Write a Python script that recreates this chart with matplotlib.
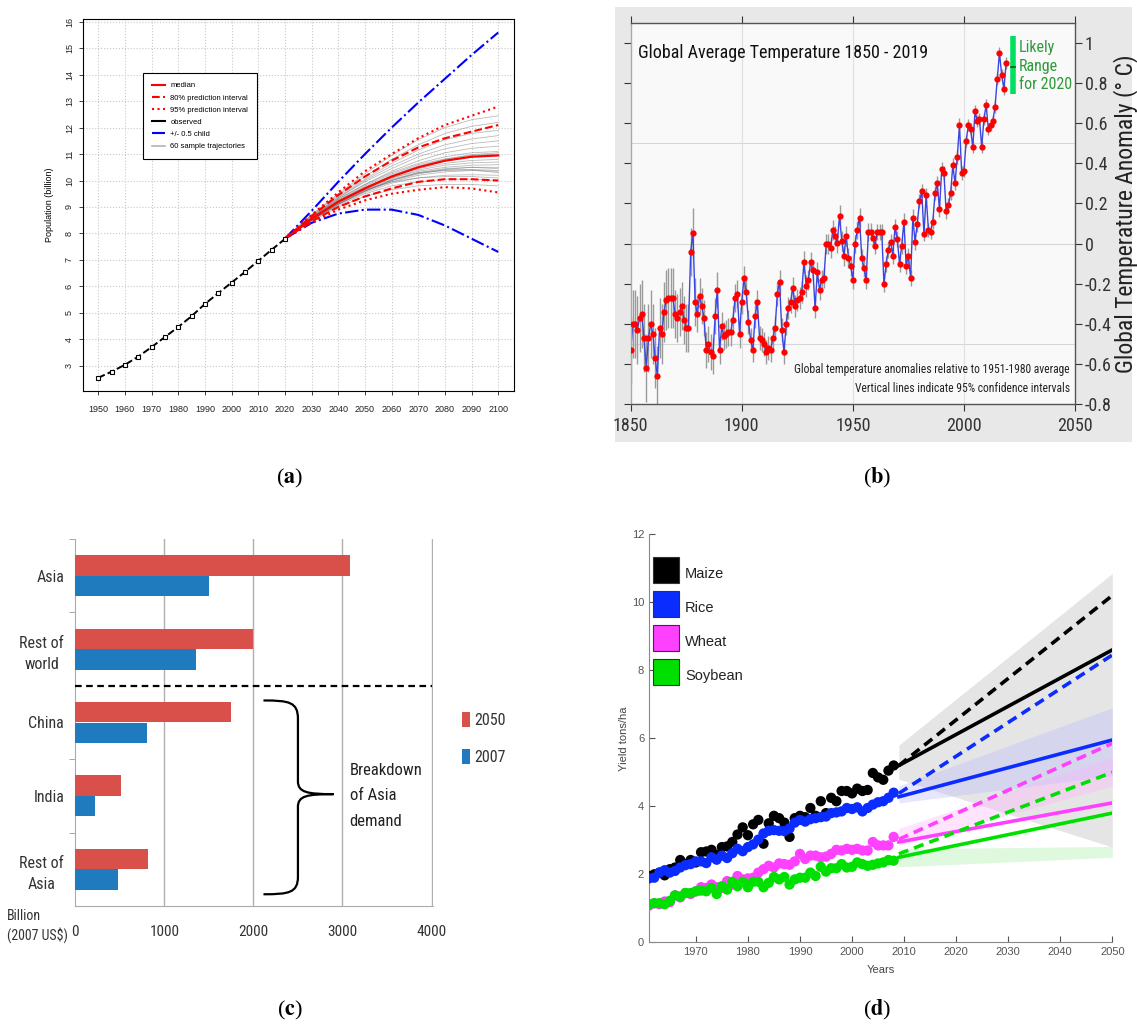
import matplotlib
matplotlib.use('Agg')
import matplotlib.pyplot as plt
import numpy as np
from matplotlib.lines import Line2D
from matplotlib.patches import Rectangle, PathPatch
from matplotlib.path import Path

plt.rcParams['axes.unicode_minus'] = False
plt.rcParams['mathtext.fontset'] = 'stix'
NARROW = ['Liberation Sans Narrow', 'DejaVu Sans Condensed', 'Roboto Condensed', 'Liberation Sans']
SANS = ['Liberation Sans', 'DejaVu Sans']

# ---------------- (a) population projections ----------------
obs_years = [1950, 1955, 1960, 1965, 1970, 1975, 1980, 1985, 1990, 1995, 2000, 2005, 2010, 2015, 2020]
obs_pop = [2.54, 2.77, 3.03, 3.34, 3.70, 4.08, 4.46, 4.87, 5.33, 5.74, 6.14, 6.54, 6.96, 7.38, 7.79]

proj_years = [2020, 2030, 2040, 2050, 2060, 2070, 2080, 2090, 2100]
median = [7.8, 8.55, 9.2, 9.7, 10.15, 10.5, 10.75, 10.9, 10.95]
pi80_hi = [7.8, 8.65, 9.45, 10.15, 10.75, 11.25, 11.6, 11.85, 12.1]
pi80_lo = [7.8, 8.45, 9.0, 9.4, 9.7, 9.95, 10.05, 10.05, 10.0]
pi95_hi = [7.8, 8.7, 9.55, 10.35, 11.0, 11.6, 12.1, 12.45, 12.8]
pi95_lo = [7.8, 8.4, 8.9, 9.25, 9.5, 9.65, 9.75, 9.7, 9.55]
child_hi = [7.8, 8.85, 9.95, 11.0, 12.0, 12.95, 13.85, 14.75, 15.6]
child_lo = [7.8, 8.4, 8.75, 8.9, 8.9, 8.7, 8.3, 7.8, 7.3]

# sample trajectories, values at 2030..2100
trajectories = [
    [8.45, 9.0, 9.4, 9.65, 9.8, 9.85, 9.85, 9.8],
    [8.5, 9.05, 9.5, 9.8, 9.95, 10.05, 10.05, 10.0],
    [8.5, 9.1, 9.55, 9.9, 10.1, 10.2, 10.22, 10.2],
    [8.55, 9.15, 9.6, 9.95, 10.2, 10.33, 10.38, 10.35],
    [8.5, 9.1, 9.6, 10.0, 10.25, 10.42, 10.5, 10.5],
    [8.55, 9.2, 9.7, 10.1, 10.35, 10.5, 10.58, 10.6],
    [8.6, 9.25, 9.75, 10.15, 10.45, 10.65, 10.76, 10.8],
    [8.55, 9.2, 9.7, 10.15, 10.5, 10.75, 10.9, 10.95],
    [8.6, 9.3, 9.85, 10.3, 10.65, 10.9, 11.05, 11.1],
    [8.6, 9.3, 9.85, 10.35, 10.75, 11.05, 11.22, 11.3],
    [8.65, 9.35, 9.95, 10.45, 10.9, 11.2, 11.4, 11.5],
    [8.6, 9.35, 10.0, 10.55, 11.0, 11.35, 11.57, 11.7],
    [8.65, 9.4, 10.05, 10.65, 11.15, 11.55, 11.78, 11.9],
    [8.7, 9.45, 10.15, 10.8, 11.35, 11.78, 12.05, 12.2],
    [8.7, 9.5, 10.25, 10.95, 11.55, 12.0, 12.3, 12.45],
    [8.55, 9.2, 9.65, 9.95, 10.1, 10.15, 10.15, 10.1],
    [8.5, 9.15, 9.7, 10.1, 10.4, 10.58, 10.67, 10.7],
    [8.6, 9.25, 9.8, 10.25, 10.6, 10.82, 10.95, 11.0],
    [8.55, 9.2, 9.75, 10.2, 10.55, 10.8, 10.98, 11.05],
    [8.5, 9.1, 9.6, 10.0, 10.3, 10.45, 10.5, 10.45],
    [8.55, 9.15, 9.65, 10.05, 10.3, 10.4, 10.42, 10.38],
    [8.5, 9.12, 9.62, 10.02, 10.28, 10.38, 10.4, 10.3],
]

# ---------------- (b) global temperature ----------------
temp_start = 1850
temp = [
    -0.53, -0.40, -0.40, -0.43, -0.37, -0.35, -0.47, -0.62, -0.47, -0.40,
    -0.45, -0.57, -0.66, -0.42, -0.45, -0.34, -0.28, -0.27, -0.27, -0.27,
    -0.35, -0.37, -0.34, -0.31, -0.38, -0.42, -0.42, -0.04, 0.055, -0.29,
    -0.35, -0.26, -0.31, -0.37, -0.53, -0.50, -0.54, -0.56, -0.36, -0.23,
    -0.53, -0.41, -0.46, -0.45, -0.44, -0.44, -0.38, -0.27, -0.25, -0.45,
    -0.29, -0.17, -0.24, -0.39, -0.48, -0.53, -0.36, -0.29, -0.47, -0.48,
    -0.50, -0.54, -0.52, -0.53, -0.47, -0.42, -0.25, -0.19, -0.43, -0.54,
    -0.40, -0.32, -0.29, -0.22, -0.31, -0.28, -0.27, -0.24, -0.09, -0.21,
    -0.18, -0.09, -0.13, -0.32, -0.14, -0.23, -0.18, -0.17, 0.00, 0.00,
    -0.02, 0.07, 0.04, 0.005, 0.14, 0.015, -0.06, 0.04, -0.07, -0.11,
    -0.18, 0.00, 0.07, 0.13, -0.07, -0.12, -0.18, 0.06, 0.06, 0.03,
    -0.01, 0.06, 0.06, 0.06, -0.20, -0.10, -0.03, 0.01, -0.06, 0.085,
    0.025, -0.10, -0.01, 0.11, -0.11, -0.06, -0.17, 0.13, 0.01, 0.10,
    0.21, 0.26, 0.05, 0.24, 0.07, 0.06, 0.11, 0.25, 0.30, 0.17,
    0.37, 0.35, 0.16, 0.19, 0.25, 0.39, 0.30, 0.43, 0.59, 0.35,
    0.36, 0.51, 0.59, 0.57, 0.48, 0.66, 0.61, 0.62, 0.48, 0.62,
    0.69, 0.57, 0.59, 0.61, 0.68, 0.82, 0.95, 0.84, 0.77, 0.90,
]
# 95% half-width per decade 1850s..2010s
decade_err = [0.17, 0.15, 0.12, 0.09, 0.07, 0.06, 0.06, 0.055, 0.05, 0.05,
              0.045, 0.04, 0.04, 0.035, 0.035, 0.03, 0.03]
range_2020 = [0.745, 1.035]
range_2020_mid = 0.88

# ---------------- (c) demand ----------------
regions = ['Asia', 'Rest of\nworld', 'China', 'India', 'Rest of\nAsia']
demand_2050 = [3080, 2000, 1750, 510, 815]
demand_2007 = [1500, 1350, 800, 225, 480]

# ---------------- (d) crop yields ----------------
yield_years = list(range(1961, 2009))
maize = [1.95, 2.0, 2.05, 1.97, 2.15, 2.2, 2.42, 2.3, 2.42, 2.35,
         2.65, 2.67, 2.72, 2.57, 2.8, 2.82, 2.95, 3.17, 3.38, 3.15,
         3.47, 3.6, 2.9, 3.5, 3.72, 3.65, 3.52, 3.1, 3.65, 3.72,
         3.68, 3.95, 3.72, 4.15, 3.8, 4.25, 4.15, 4.45, 4.45, 4.38,
         4.52, 4.45, 4.48, 4.98, 4.85, 4.78, 5.05, 5.2]
rice = [1.88, 1.9, 2.05, 2.12, 2.05, 2.1, 2.2, 2.27, 2.3, 2.38,
        2.38, 2.33, 2.5, 2.43, 2.55, 2.48, 2.62, 2.75, 2.68, 2.8,
        2.88, 3.02, 3.2, 3.28, 3.3, 3.28, 3.27, 3.35, 3.52, 3.6,
        3.55, 3.62, 3.65, 3.68, 3.7, 3.8, 3.82, 3.85, 3.95, 3.92,
        3.97, 3.85, 3.95, 4.05, 4.12, 4.15, 4.25, 4.4]
wheat = [1.08, 1.15, 1.12, 1.2, 1.18, 1.38, 1.32, 1.45, 1.42, 1.5,
         1.62, 1.6, 1.7, 1.62, 1.6, 1.8, 1.7, 1.95, 1.85, 1.88,
         1.9, 2.05, 2.15, 2.25, 2.2, 2.32, 2.3, 2.28, 2.38, 2.6,
         2.45, 2.55, 2.55, 2.5, 2.52, 2.6, 2.72, 2.7, 2.75, 2.72,
         2.75, 2.7, 2.7, 2.95, 2.85, 2.85, 2.85, 3.1]
soybean = [1.12, 1.15, 1.15, 1.12, 1.22, 1.38, 1.35, 1.45, 1.45, 1.5,
           1.52, 1.5, 1.6, 1.42, 1.65, 1.55, 1.78, 1.65, 1.78, 1.62,
           1.78, 1.78, 1.62, 1.75, 1.92, 1.85, 1.92, 1.7, 1.85, 1.9,
           1.9, 2.05, 1.95, 2.22, 2.08, 2.18, 2.18, 2.3, 2.2, 2.22,
           2.35, 2.3, 2.25, 2.28, 2.32, 2.35, 2.42, 2.4]
trend_years = [2009, 2050]
maize_trend = [5.2, 8.6]
maize_needed = [5.2, 10.2]
rice_trend = [4.28, 5.95]
rice_needed = [4.38, 8.45]
wheat_trend = [2.95, 4.1]
wheat_needed = [3.03, 5.85]
soy_trend = [2.5, 3.8]
soy_needed = [2.6, 5.0]
maize_band = ([4.8, 2.8], [5.8, 10.85])
rice_band = ([4.1, 4.9], [4.6, 6.9])
wheat_band = ([2.85, 4.6], [3.35, 5.45])
soy_band = ([2.22, 2.5], [2.75, 2.82])

fig = plt.figure(figsize=(11.37, 10.28), dpi=100)
W, H = 1137.0, 1028.0


def axes_px(left, top, right, bottom):
    return fig.add_axes([left / W, 1 - bottom / H, (right - left) / W, (bottom - top) / H])


# ================= panel (a) =================
ax = axes_px(83, 19, 514, 391)
for tr in trajectories:
    ax.plot(proj_years, [7.8] + tr, color='0.4', lw=0.6, alpha=0.45, zorder=2)
ax.plot(proj_years, child_hi, color='blue', lw=1.5, ls='-.', zorder=3)
ax.plot(proj_years, child_lo, color='blue', lw=1.5, ls='-.', zorder=3)
ax.plot(proj_years, pi95_hi, color='red', lw=1.5, ls=':', zorder=4)
ax.plot(proj_years, pi95_lo, color='red', lw=1.5, ls=':', zorder=4)
ax.plot(proj_years, pi80_hi, color='red', lw=1.5, ls='--', zorder=4)
ax.plot(proj_years, pi80_lo, color='red', lw=1.5, ls='--', zorder=4)
ax.plot(proj_years, median, color='red', lw=1.6, zorder=5)
ax.plot(obs_years, obs_pop, color='black', lw=1.4, ls='--', marker='s',
        ms=3, mfc='white', mec='black', mew=0.8, zorder=6)
ax.set_xlim(1944.3, 2105.9)
ax.set_ylim(2.04, 16.11)
ax.set_xticks(range(1950, 2101, 10))
ax.set_yticks(range(3, 17))
ax.grid(True, ls=':', color='#c8c8c8', lw=0.8)
ax.set_axisbelow(True)
ax.tick_params(labelsize=6.5, length=3, width=0.6, colors='#222222')
ax.tick_params(axis='x', pad=7)
for lbl in ax.get_xticklabels() + ax.get_yticklabels():
    lbl.set_family(SANS)
for lbl in ax.get_yticklabels():
    lbl.set_rotation(90)
    lbl.set_va('center')
for s in ax.spines.values():
    s.set_linewidth(0.8)
ax.set_ylabel('Population (billion)', fontsize=6.5, family=SANS, labelpad=8)
handles_a = [
    Line2D([], [], color='red', lw=1.5),
    Line2D([], [], color='red', lw=1.5, ls='--'),
    Line2D([], [], color='red', lw=1.5, ls=':'),
    Line2D([], [], color='black', lw=1.5),
    Line2D([], [], color='blue', lw=1.5, ls='-.'),
    Line2D([], [], color='0.7', lw=1.2),
]
labels_a = ['median', '80% prediction interval', '95% prediction interval',
            'observed', '+/- 0.5 child', '60 sample trajectories']
leg = ax.legend(handles_a, labels_a, loc='upper left', bbox_to_anchor=(0.1385, 0.855),
                borderaxespad=0, labelspacing=0.63, handlelength=1.7, handletextpad=0.7,
                fancybox=False, edgecolor='black', framealpha=1, borderpad=1.2,
                prop={'family': SANS, 'size': 5.5})
leg.get_frame().set_linewidth(0.8)

# ================= panel (b) =================
fig.patches.append(Rectangle((615 / W, 1 - 442 / H), (1132 - 615) / W, (442 - 7) / H,
                             transform=fig.transFigure, facecolor='#e8e8e8',
                             edgecolor='none', zorder=-10))
bx = axes_px(630.7, 22.7, 1075, 404.3)
bx.set_facecolor('#f9f9f9')
t_years = np.arange(temp_start, temp_start + len(temp))
t_err = np.repeat(decade_err, 10)[:len(temp)]
t_vals = np.array(temp)
for yv in (-0.5, 0, 0.5):
    bx.axhline(yv, color='#d6d6d6', lw=0.8, zorder=0)
for xv in (1900, 1950, 2000):
    bx.axvline(xv, color='#e0e0e0', lw=0.8, zorder=0)
bx.vlines(t_years, t_vals - t_err, t_vals + t_err, color='#9a9a9a', lw=1.0, zorder=1)
bx.plot(t_years, t_vals, color='#3a46e0', lw=1.0, zorder=2)
bx.plot(t_years, t_vals, 'o', color='red', ms=4.5, mec='none', zorder=3)
bx.plot([2022, 2022], range_2020, color='#00e060', lw=4, solid_capstyle='butt', zorder=3)
bx.plot([2021, 2023], [range_2020_mid, range_2020_mid], color='#0a5a0a', lw=1.2, zorder=4)
bx.text(2024.8, 0.884, 'Likely\nRange\nfor 2020', color='#2e9a3a', fontsize=11.5,
        family=NARROW, va='center', ha='left', linespacing=1.3)
bx.set_xlim(1850, 2050)
bx.set_ylim(-0.8, 1.1)
bx.set_xticks([1850, 1900, 1950, 2000, 2050])
yt = [-0.8, -0.6, -0.4, -0.2, 0, 0.2, 0.4, 0.6, 0.8, 1.0]
bx.set_yticks(yt)
bx.set_yticklabels([f'{v:g}' for v in yt])
bx.tick_params(axis='y', left=True, right=True, labelleft=False, labelright=True,
               labelsize=13, length=5, pad=2, colors='#333333')
bx.tick_params(axis='x', top=True, bottom=True, labelsize=13, length=5, pad=4,
               colors='#333333')
for lbl in bx.get_xticklabels() + bx.get_yticklabels():
    lbl.set_family(NARROW)
for side, s in bx.spines.items():
    s.set_color('#555555' if side != 'left' else '#aaaaaa')
    s.set_linewidth(1.0)
bx.yaxis.set_label_position('right')
bx.set_ylabel('Global Temperature Anomaly (° C)', fontsize=17, family=NARROW,
              color='#222222', labelpad=1)
bx.text(0.017, 0.92, 'Global Average Temperature 1850 - 2019', transform=bx.transAxes,
        fontsize=13, family=NARROW, va='center', ha='left', color='#111111')
bx.text(0.989, 0.0925, 'Global temperature anomalies relative to 1951-1980 average',
        transform=bx.transAxes, fontsize=8.4, family=NARROW, ha='right', va='center',
        color='#222222')
bx.text(0.989, 0.042, 'Vertical lines indicate 95% confidence intervals',
        transform=bx.transAxes, fontsize=8.4, family=NARROW, ha='right', va='center',
        color='#222222')

# ================= panel (c) =================
cx = axes_px(75.3, 539, 433.3, 906)
pos = np.arange(len(regions))
bh = 0.28
cx.barh(pos - bh / 2, demand_2050, height=bh, color='#d9504b', label='2050', zorder=3)
cx.barh(pos + bh / 2, demand_2007, height=bh, color='#1f7bbd', label='2007', zorder=3)
cx.set_ylim(4.5, -0.5)
cx.set_xlim(0, 4020)
for xv in (1000, 2000, 3000, 4000):
    cx.axvline(xv, color='#b0b0b0', lw=1.0, zorder=1)
cx.plot([0, 4000], [1.5, 1.5], color='black', ls='--', lw=1.6, dashes=(3, 2), zorder=4)
cx.set_yticks(pos)
cx.set_yticklabels(regions)
cx.set_yticks([-0.5, 0.5, 2.5, 3.5], minor=True)
cx.tick_params(axis='y', which='major', length=0, pad=8, labelsize=11.5)
cx.tick_params(axis='y', which='minor', length=4, color='#999999')
cx.set_xticks([0, 1000, 2000, 3000, 4000])
cx.tick_params(axis='x', length=0, pad=14, labelsize=11, colors='#333333')
for lbl in cx.get_xticklabels() + cx.get_yticklabels():
    lbl.set_family(NARROW)
    lbl.set_color('#333333')
for lbl in cx.get_yticklabels():
    lbl.set_ha('right')
    lbl.set_multialignment('center')
    lbl.set_linespacing(1.5)
cx.spines['top'].set_visible(False)
cx.spines['right'].set_visible(False)
cx.spines['left'].set_color('#aaaaaa')
cx.spines['bottom'].set_color('#aaaaaa')
brace = Path(
    [(2113, 1.70), (2400, 1.70), (2500, 1.72), (2500, 1.95),
     (2500, 2.80),
     (2500, 2.95), (2600, 2.976), (2900, 2.976),
     (2600, 2.976), (2500, 3.0), (2500, 3.15),
     (2500, 4.10),
     (2500, 4.32), (2400, 4.34), (2113, 4.34)],
    [Path.MOVETO, Path.CURVE4, Path.CURVE4, Path.CURVE4,
     Path.LINETO,
     Path.CURVE4, Path.CURVE4, Path.CURVE4,
     Path.CURVE4, Path.CURVE4, Path.CURVE4,
     Path.LINETO,
     Path.CURVE4, Path.CURVE4, Path.CURVE4])
cx.add_patch(PathPatch(brace, fill=False, lw=1.6, edgecolor='black', zorder=5))
cx.text(3080, 3.0, 'Breakdown\nof Asia\ndemand', fontsize=12, family=NARROW,
        va='center', ha='left', linespacing=1.85, color='#222222')
leg_c = cx.legend(loc='upper left', bbox_to_anchor=(1.080, 0.528), borderaxespad=0,
                  borderpad=0, frameon=False, handlelength=0.5, handleheight=1.0,
                  handletextpad=0.25, labelspacing=1.35,
                  prop={'family': NARROW, 'size': 11.5})
for t in leg_c.get_texts():
    t.set_color('#333333')
fig.text(7 / W, 1 - 926 / H, 'Billion\n(2007 US$)', fontsize=10, family=NARROW,
         ha='left', va='center', color='#333333', linespacing=1.4)

# ================= panel (d) =================
dx = axes_px(649, 534.3, 1112.3, 942.3)
dx.fill_between(trend_years, maize_band[0], maize_band[1], color='#d4d4d4', alpha=0.6,
                lw=0, zorder=1)
dx.fill_between(trend_years, rice_band[0], rice_band[1], color='#b8b8ff', alpha=0.35,
                lw=0, zorder=1)
dx.fill_between(trend_years, wheat_band[0], wheat_band[1], color='#ffb0ff', alpha=0.35,
                lw=0, zorder=1)
dx.fill_between(trend_years, soy_band[0], soy_band[1], color='#b0f0b0', alpha=0.4,
                lw=0, zorder=1)
crops = [
    ('Maize', maize, maize_trend, maize_needed, 'black'),
    ('Rice', rice, rice_trend, rice_needed, '#0a2cff'),
    ('Wheat', wheat, wheat_trend, wheat_needed, '#ff40ff'),
    ('Soybean', soybean, soy_trend, soy_needed, '#00e000'),
]
for name, vals, trend, needed, col in crops:
    dx.scatter(yield_years, vals, s=55, color=col, edgecolors='none', zorder=3)
    dx.plot(trend_years, trend, color=col, lw=2.6, zorder=4)
    dx.plot(trend_years, needed, color=col, lw=2.6, ls='--', dashes=(2.8, 1.7), zorder=4)
dx.set_xlim(1961, 2050)
dx.set_ylim(0, 12)
dx.set_xticks(range(1970, 2051, 10))
dx.set_yticks(range(0, 13, 2))
dx.tick_params(direction='in', length=4, labelsize=8, colors='#555555')
for lbl in dx.get_xticklabels() + dx.get_yticklabels():
    lbl.set_family(SANS)
dx.spines['top'].set_visible(False)
dx.spines['right'].set_visible(False)
dx.spines['left'].set_color('#888888')
dx.spines['bottom'].set_color('#888888')
dx.set_xlabel('Years', fontsize=8, color='#444444', family=SANS, labelpad=6)
dx.set_ylabel('Yield tons/ha', fontsize=8, color='#444444', family=SANS, labelpad=2)
handles_d = [Line2D([], [], ls='', marker='s', ms=19, mfc=c[4], mec='#333333', mew=0.8)
             for c in crops]
leg_d = dx.legend(handles_d, [c[0] for c in crops], loc='upper left',
                  bbox_to_anchor=(0.0086, 0.93), borderaxespad=0, borderpad=0,
                  frameon=False, handlelength=1.85, handleheight=1.85,
                  handletextpad=0.35, labelspacing=0.88,
                  prop={'family': SANS, 'size': 10.5})
for t in leg_d.get_texts():
    t.set_color('#222222')

# ================= panel labels =================
for lab, x, y in [('a', 290, 478), ('b', 877, 478), ('c', 290, 1010), ('d', 877, 1010)]:
    fig.text(x / W, 1 - y / H, '(' + r'$\mathbf{' + lab + '}$' + ')', fontsize=16,
             family='Liberation Serif', ha='center', va='center')

fig.savefig('out.png', dpi=100)
